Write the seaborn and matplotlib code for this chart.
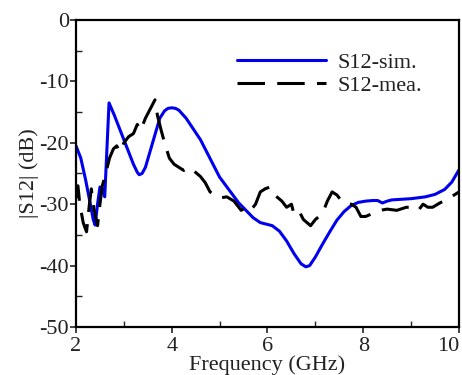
import numpy as np
import pandas as pd
import seaborn as sns
import matplotlib
matplotlib.use("Agg")
import matplotlib.pyplot as plt
from matplotlib.ticker import MultipleLocator

# ---- data ----
f_sim = [2.0, 2.1, 2.2, 2.3, 2.36, 2.4, 2.45, 2.5, 2.55, 2.6, 2.69, 2.8, 3.0, 3.2,
         3.28, 3.32, 3.38, 3.45, 3.6, 3.75, 3.85, 3.92, 4.0, 4.08, 4.15, 4.3, 4.6,
         5.0, 5.4, 5.7, 5.85, 6.0, 6.1, 6.25, 6.4, 6.55, 6.7, 6.8, 6.88, 7.0, 7.15,
         7.3, 7.45, 7.6, 7.75, 7.9, 8.05, 8.2, 8.3, 8.4, 8.5, 8.6, 8.8, 9.0, 9.3,
         9.5, 9.7, 9.85, 10.0]
s12_sim = [-20.5, -22.5, -26, -30, -32.5, -33.4, -30, -27.2, -27.5, -28.8, -13.5,
           -15.5, -19.5, -23.5, -24.8, -25.2, -25.0, -24, -20, -16, -14.8, -14.4,
           -14.3, -14.4, -14.7, -16, -19.5, -25.6, -29.8, -32.2, -33.0, -33.3,
           -33.5, -34.4, -36.0, -38.0, -39.7, -40.2, -40.0, -38.6, -36.5, -34.5,
           -32.6, -31.2, -30.2, -29.7, -29.5, -29.4, -29.4, -29.8, -29.5, -29.3,
           -29.2, -29.1, -28.8, -28.4, -27.6, -26.4, -24.4]

f_mea = [2.00, 2.04, 2.08, 2.15, 2.22, 2.28, 2.32, 2.38, 2.45, 2.50, 2.55, 2.62,
         2.70, 2.78, 2.85, 2.92, 3.00, 3.10, 3.20, 3.28, 3.35, 3.45, 3.55, 3.65,
         3.70, 3.78, 3.85, 3.95, 4.05, 4.15, 4.25, 4.35, 4.45, 4.60, 4.70, 4.80,
         4.90, 5.00, 5.15, 5.30, 5.45, 5.55, 5.65, 5.75, 5.85, 5.95, 6.05, 6.15,
         6.30, 6.40, 6.50, 6.55, 6.65, 6.75, 6.90, 7.00, 7.15, 7.25, 7.35, 7.45,
         7.55, 7.65, 7.75, 7.85, 7.95, 8.05, 8.20, 8.35, 8.50, 8.70, 8.90, 9.05,
         9.15, 9.25, 9.35, 9.45, 9.60, 9.80, 10.0]
s12_mea = [-29, -27, -30, -33, -34.5, -30, -27.5, -31, -33.5, -30, -27, -25,
           -22.5, -21, -20.5, -21.5, -20, -19, -18.5, -17, -18, -16, -14.5, -13,
           -15.5, -18, -20, -22.5, -23.5, -24, -24.5, -24, -24.5, -25.5, -26.5, -28,
           -28.5, -29, -28.8, -29.5, -31, -30.5, -31, -30, -28, -27.5, -27.2, -28.5,
           -29.5, -30.5, -30, -31.5, -31, -32.5, -33.5, -32.5, -31.5, -29.5, -28, -28.5,
           -29.5, -30, -30, -30.5, -32, -32, -31.5, -31, -30.8, -31, -30.5, -30.5,
           -31, -30, -30.5, -30.5, -29.8, -29, -28]

x_ticks = [2, 4, 6, 8, 10]
y_ticks = [0, -10, -20, -30, -40, -50]
series_names = ["S12-sim.", "S12-mea."]

sns.set_theme(style="white")
plt.rcParams["font.family"] = ["Liberation Serif", "DejaVu Serif"]
plt.rcParams["axes.unicode_minus"] = False

fig = plt.figure(figsize=(4.62, 3.75), dpi=100)
ax = fig.add_axes([0.1645, 0.128, 0.829, 0.8187])

df_sim = pd.DataFrame({"f": f_sim, "v": s12_sim})
df_mea = pd.DataFrame({"f": f_mea, "v": s12_mea})

sns.lineplot(data=df_sim, x="f", y="v", ax=ax, color="#0000ee", lw=2.2,
             label=series_names[0])
sns.lineplot(data=df_mea, x="f", y="v", ax=ax, color="black", lw=2.2,
             label=series_names[1])
ax.lines[1].set_dashes((9, 4))

ax.set_xlim(2, 10)
ax.set_ylim(-50, 0)
ax.set_xticks(x_ticks)
ax.set_yticks(y_ticks)
ax.xaxis.set_minor_locator(MultipleLocator(1))
ax.yaxis.set_minor_locator(MultipleLocator(5))
ax.tick_params(which="major", direction="out", length=4, width=1.2,
               labelsize=16, pad=1, colors="#222222", labelcolor="#222222")
ax.tick_params(axis="x", which="major", pad=3)
ax.tick_params(which="minor", direction="in", length=4, width=1.0, colors="#222222")
ax.tick_params(axis="both", which="both", bottom=True, left=True, top=False, right=False)

# last x tick label sits flush against the right edge as in the reference
xlabels = ax.get_xticklabels()
xlabels[-1].set_horizontalalignment("right")

for s in ax.spines.values():
    s.set_color("black")
    s.set_linewidth(1.6)

ax.set_xlabel("Frequency (GHz)", fontsize=16, color="#222222", labelpad=0)
ax.set_ylabel("|S12| (dB)", fontsize=16, color="#222222", labelpad=0)

leg = ax.legend(loc="upper right", frameon=False, fontsize=16, handlelength=4.0,
                handletextpad=0.5, labelspacing=0.1, bbox_to_anchor=(0.955, 0.96))
for t in leg.get_texts():
    t.set_color("#222222")

fig.savefig("out.png", dpi=100)
